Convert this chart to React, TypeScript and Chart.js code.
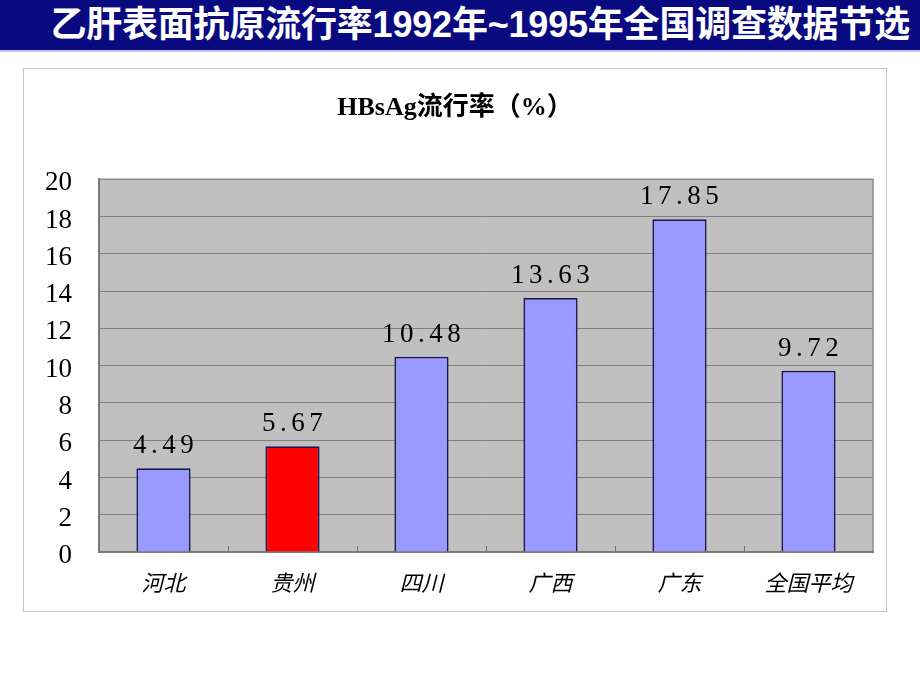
import React, { useEffect, useRef } from "react";
import { Chart, registerables } from "chart.js";

Chart.register(...registerables);

const headerTitle = "乙肝表面抗原流行率1992年~1995年全国调查数据节选";
const chartTitle = "HBsAg流行率（%）";
const categories = ["河北", "贵州", "四川", "广西", "广东", "全国平均"];
const prevalence = [4.49, 5.67, 10.48, 13.63, 17.85, 9.72];
const barColors = ["#9999FF", "#FF0000", "#9999FF", "#9999FF", "#9999FF", "#9999FF"];
const yMin = 0;
const yMax = 20;
const yStep = 2;

const SERIF = '"Liberation Serif", "DejaVu Serif", serif';

const plotDecor = {
  id: "plotDecor",
  beforeDraw(chart: any) {
    const { ctx, chartArea: a } = chart;
    ctx.save();
    ctx.fillStyle = "#C0C0C0";
    ctx.fillRect(a.left, a.top, a.right - a.left, a.bottom - a.top);
    ctx.restore();
  },
  afterDatasetsDraw(chart: any) {
    const { ctx, chartArea: a } = chart;
    const xs = chart.scales.x;
    ctx.save();
    ctx.strokeStyle = "#8A8A8A";
    ctx.lineWidth = 1.5;
    ctx.beginPath();
    ctx.moveTo(a.left, a.top);
    ctx.lineTo(a.right, a.top);
    ctx.lineTo(a.right, a.bottom);
    ctx.stroke();
    ctx.strokeStyle = "#707070";
    ctx.lineWidth = 1;
    for (let i = 0; i < categories.length - 1; i++) {
      const x = Math.round((xs.getPixelForValue(i) + xs.getPixelForValue(i + 1)) / 2) + 0.5;
      ctx.beginPath();
      ctx.moveTo(x, a.bottom);
      ctx.lineTo(x, a.bottom - 6);
      ctx.stroke();
    }
    const meta = chart.getDatasetMeta(0);
    ctx.fillStyle = "#000";
    ctx.font = `27px ${SERIF}`;
    ctx.textAlign = "center";
    ctx.textBaseline = "middle";
    (ctx as any).letterSpacing = "4.5px";
    meta.data.forEach((bar: any, i: number) => {
      ctx.fillText(prevalence[i].toFixed(2), bar.x + 2, bar.y - 22);
    });
    ctx.restore();
  },
};

export default function App() {
  const ref = useRef<HTMLCanvasElement | null>(null);

  useEffect(() => {
    if (!ref.current) return;
    const chart = new Chart(ref.current, {
      type: "bar",
      data: {
        labels: categories,
        datasets: [
          {
            data: prevalence,
            backgroundColor: barColors,
            borderColor: "#1A1A50",
            borderWidth: 1.8,
            barPercentage: 0.42,
            categoryPercentage: 1,
          },
        ],
      },
      options: {
        animation: false,
        responsive: false,
        maintainAspectRatio: false,
        layout: { padding: { left: 14, right: 14, top: 0, bottom: 0 } },
        plugins: {
          legend: { display: false },
          tooltip: { enabled: false },
          title: {
            display: true,
            text: chartTitle,
            color: "#000",
            font: { family: `"Liberation Serif", "Noto Sans CJK SC", serif`, size: 26, weight: "bold" },
            padding: { top: 25, bottom: 55 },
          },
        },
        scales: {
          x: {
            grid: { display: false, drawTicks: false },
            border: { display: true, color: "#7A7A7A", width: 2 },
            ticks: {
              color: "#000",
              padding: 17,
              font: { family: '"Noto Sans CJK SC", sans-serif', size: 22, style: "italic" },
            },
            afterFit(scale: any) {
              scale.height = 60;
            },
          },
          y: {
            min: yMin,
            max: yMax,
            ticks: {
              stepSize: yStep,
              color: "#000",
              padding: 27,
              labelOffset: 4,
              font: { family: SERIF, size: 27 },
            },
            grid: { color: "#808080", lineWidth: 1, drawTicks: false },
            border: { display: true, color: "#7A7A7A", width: 2 },
            afterFit(scale: any) {
              scale.width = 62;
            },
          },
        },
      },
      plugins: [plotDecor],
    });
    return () => chart.destroy();
  }, []);

  return (
    <div style={{ position: "absolute", left: 0, top: 0, width: 920, height: 690, background: "#fff", overflow: "hidden" }}>
      <div
        style={{
          position: "absolute",
          left: 0,
          top: 0,
          width: 920,
          height: 50,
          background: "#0A0A80",
          borderBottom: "2px solid #C8C8EE",
        }}
      >
        <div
          style={{
            position: "absolute",
            right: 10,
            top: 0,
            height: 50,
            lineHeight: "50px",
            color: "#fff",
            fontFamily: '"Liberation Sans", "Noto Sans CJK SC", sans-serif',
            fontWeight: "bold",
            fontSize: 36,
            letterSpacing: -0.2,
            whiteSpace: "nowrap",
          }}
        >
          {headerTitle}
        </div>
      </div>
      <div
        style={{
          position: "absolute",
          left: 23,
          top: 68,
          width: 864,
          height: 544,
          boxSizing: "border-box",
          border: "1px solid #C4C4C4",
        }}
      />
      <canvas ref={ref} width={864} height={544} style={{ position: "absolute", left: 23, top: 68, width: 864, height: 544 }} />
    </div>
  );
}
